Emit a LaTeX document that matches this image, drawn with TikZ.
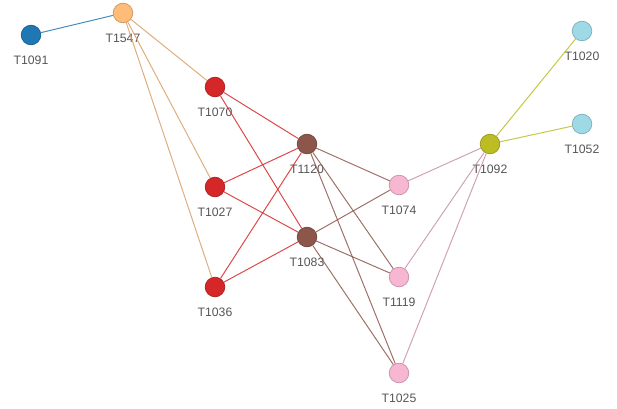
\documentclass[tikz,border=0pt]{standalone}
\usepackage{fontspec}
\setmainfont{Liberation Sans}
\usetikzlibrary{positioning}

\definecolor{cblue}{HTML}{1F77B4}
\definecolor{corange}{HTML}{FFBB78}
\definecolor{cred}{HTML}{D62728}
\definecolor{cbrown}{HTML}{8C564B}
\definecolor{cpink}{HTML}{F7B6D2}
\definecolor{colive}{HTML}{BCBD22}
\definecolor{ccyan}{HTML}{9EDAE5}
\definecolor{labelgray}{HTML}{555555}

\begin{document}
\begin{tikzpicture}
[x=0.025cm, y=-0.025cm, line width=0.7pt,
vertex/.style={circle, draw=#1!80!black, fill=#1, line width=0.5pt, inner sep=0pt, minimum size=0.49cm},
link/.style={draw=#1, opacity=0.85},
every label/.style={text=labelgray, font=\fontsize{8.7}{10}\selectfont, label distance=0.15cm}]

\useasboundingbox (0,0) rectangle (617,408);

\node[vertex=cblue, label=below:T1091] (t1091) at (31,35) {};
\node[vertex=corange, label=below:T1547] (t1547) at (123,13) {};

\node[vertex=cred, label=below:T1070] (t1070) at (215,87) {};
\node[vertex=cred, label=below:T1027] (t1027) at (215,187) {};
\node[vertex=cred, label=below:T1036] (t1036) at (215,287) {};

\node[vertex=cbrown, label=below:T1120] (t1120) at (307,144) {};
\node[vertex=cbrown, label=below:T1083] (t1083) at (307,237) {};

\node[vertex=cpink, label=below:T1074] (t1074) at (399,185) {};
\node[vertex=cpink, label=below:T1119] (t1119) at (399,277) {};
\node[vertex=cpink, label=below:T1025] (t1025) at (399,373) {};

\node[vertex=colive, label=below:T1092] (t1092) at (490,144) {};

\node[vertex=ccyan, label=below:T1020] (t1020) at (582,31) {};
\node[vertex=ccyan, label=below:T1052] (t1052) at (582,124) {};

% edges
\draw[link=cblue] (t1091) -- (t1547);

\draw[link=corange!85!black] (t1547) -- (t1070);
\draw[link=corange!85!black] (t1547) -- (t1027);
\draw[link=corange!85!black] (t1547) -- (t1036);

\draw[link=cred] (t1070) -- (t1120);
\draw[link=cred] (t1070) -- (t1083);
\draw[link=cred] (t1027) -- (t1120);
\draw[link=cred] (t1027) -- (t1083);
\draw[link=cred] (t1036) -- (t1120);
\draw[link=cred] (t1036) -- (t1083);

\draw[link=cbrown] (t1120) -- (t1074);
\draw[link=cbrown] (t1120) -- (t1119);
\draw[link=cbrown] (t1120) -- (t1025);
\draw[link=cbrown] (t1083) -- (t1074);
\draw[link=cbrown] (t1083) -- (t1119);
\draw[link=cbrown] (t1083) -- (t1025);

\draw[link=cpink!80!black] (t1092) -- (t1074);
\draw[link=cpink!80!black] (t1092) -- (t1119);
\draw[link=cpink!80!black] (t1092) -- (t1025);

\draw[link=colive] (t1092) -- (t1020);
\draw[link=colive] (t1092) -- (t1052);
\end{tikzpicture}
\end{document}
